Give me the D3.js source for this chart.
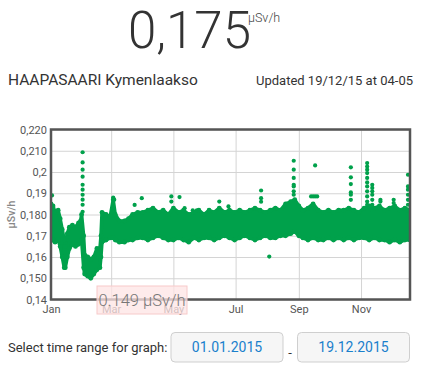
<!DOCTYPE html>
<html>
<head>
<meta charset="utf-8">
<script src="https://cdn.jsdelivr.net/npm/d3@7"></script>
<style>
  body { margin: 0; background: #fff; }
  svg { display: block; font-family: Roboto, "Noto Sans", sans-serif; }
</style>
</head>
<body>
<svg id="chart" width="431" height="384"></svg>
<script>
const width = 431;
const height = 384;

const currentValue = "0,175";
const unit = "µSv/h";
const stationName = "HAAPASAARI Kymenlaakso";
const updatedText = "Updated 19/12/15 at 04-05";
const hoverText = "0.149 µSv/h";
const rangeStart = "01.01.2015";
const rangeEnd = "19.12.2015";

const yTickValues = [0.14, 0.15, 0.16, 0.17, 0.18, 0.19, 0.20, 0.21, 0.22];
const yTickLabels = ["0,14", "0,150", "0,16", "0,17", "0,180", "0,19", "0,2", "0,210", "0,220"];
const xTickDates = ["2015-01-01", "2015-03-01", "2015-05-01", "2015-07-01", "2015-09-01", "2015-11-01"];
const xTickLabels = ["Jan", "Mar", "May", "Jul", "Sep", "Nov"];

// dense band of readings: low / high edge at each date
const bandDates = [
  "2015-01-01", "2015-01-03", "2015-01-05", "2015-01-08", "2015-01-10", "2015-01-12", "2015-01-14", "2015-01-15",
  "2015-01-17", "2015-01-19", "2015-01-22", "2015-01-25", "2015-01-28", "2015-01-30", "2015-01-31", "2015-02-02",
  "2015-02-03", "2015-02-06", "2015-02-09", "2015-02-12", "2015-02-15", "2015-02-18", "2015-02-19", "2015-02-20",
  "2015-02-24", "2015-02-28", "2015-03-03", "2015-03-05", "2015-03-09", "2015-03-14", "2015-03-18", "2015-03-22",
  "2015-03-27", "2015-04-01", "2015-04-06", "2015-04-11", "2015-04-16", "2015-04-21", "2015-04-26", "2015-05-01",
  "2015-05-06", "2015-05-11", "2015-05-16", "2015-05-21", "2015-05-26", "2015-05-31", "2015-06-05", "2015-06-10",
  "2015-06-15", "2015-06-20", "2015-06-25", "2015-06-30", "2015-07-05", "2015-07-10", "2015-07-15", "2015-07-20",
  "2015-07-25", "2015-07-30", "2015-08-04", "2015-08-09", "2015-08-14", "2015-08-19", "2015-08-24", "2015-08-28",
  "2015-09-01", "2015-09-05", "2015-09-10", "2015-09-15", "2015-09-20", "2015-09-25", "2015-09-30", "2015-10-05",
  "2015-10-10", "2015-10-15", "2015-10-20", "2015-10-25", "2015-10-30", "2015-11-04", "2015-11-09", "2015-11-14",
  "2015-11-19", "2015-11-24", "2015-11-29", "2015-12-04", "2015-12-09", "2015-12-14", "2015-12-19"
];
const bandLow = [
  0.168, 0.168, 0.167, 0.168, 0.165, 0.160, 0.155, 0.155,
  0.160, 0.164, 0.166, 0.165, 0.166, 0.167, 0.168, 0.155,
  0.152, 0.151, 0.150, 0.152, 0.154, 0.155, 0.160, 0.167,
  0.168, 0.169, 0.169, 0.168, 0.167, 0.167, 0.168, 0.168,
  0.169, 0.169, 0.168, 0.169, 0.170, 0.169, 0.168, 0.168,
  0.169, 0.168, 0.167, 0.169, 0.168, 0.169, 0.169, 0.168,
  0.169, 0.170, 0.169, 0.168, 0.169, 0.170, 0.169, 0.168,
  0.169, 0.170, 0.169, 0.169, 0.170, 0.170, 0.171, 0.172,
  0.170, 0.169, 0.168, 0.169, 0.168, 0.168, 0.169, 0.168,
  0.169, 0.168, 0.169, 0.168, 0.169, 0.169, 0.168, 0.169,
  0.168, 0.168, 0.167, 0.168, 0.167, 0.168, 0.168
];
const bandHigh = [
  0.185, 0.184, 0.181, 0.182, 0.178, 0.173, 0.168, 0.165,
  0.171, 0.174, 0.175, 0.174, 0.176, 0.177, 0.180, 0.170,
  0.161, 0.160, 0.159, 0.160, 0.164, 0.164, 0.170, 0.181,
  0.180, 0.179, 0.187, 0.180, 0.177, 0.177, 0.178, 0.180,
  0.181, 0.181, 0.182, 0.183, 0.181, 0.182, 0.180, 0.183,
  0.181, 0.182, 0.180, 0.181, 0.182, 0.180, 0.182, 0.181,
  0.183, 0.181, 0.182, 0.181, 0.182, 0.181, 0.182, 0.183,
  0.182, 0.181, 0.182, 0.183, 0.182, 0.185, 0.186, 0.187,
  0.184, 0.182, 0.183, 0.185, 0.182, 0.181, 0.182, 0.181,
  0.182, 0.182, 0.183, 0.182, 0.181, 0.183, 0.184, 0.183,
  0.184, 0.182, 0.183, 0.184, 0.182, 0.183, 0.182
];

// single readings standing out of the band
const spikeDates = [
  "2015-01-02",
  "2015-02-01", "2015-02-01", "2015-02-01", "2015-02-01", "2015-02-01", "2015-02-01", "2015-02-01", "2015-02-01", "2015-02-01", "2015-02-01",
  "2015-03-03", "2015-03-04", "2015-03-24", "2015-03-31",
  "2015-04-29", "2015-04-29", "2015-05-07", "2015-05-12", "2015-05-20", "2015-05-24", "2015-06-15", "2015-06-24",
  "2015-07-26", "2015-07-26", "2015-07-26", "2015-08-03",
  "2015-08-27", "2015-08-27", "2015-08-27", "2015-08-27", "2015-08-27", "2015-08-27", "2015-08-27",
  "2015-09-13", "2015-09-15", "2015-09-17", "2015-09-19", "2015-09-17",
  "2015-10-22", "2015-10-22", "2015-10-22", "2015-10-22", "2015-10-22", "2015-10-22",
  "2015-11-07", "2015-11-07", "2015-11-07", "2015-11-07", "2015-11-07", "2015-11-07", "2015-11-07", "2015-11-07", "2015-11-07", "2015-11-07", "2015-11-07",
  "2015-11-12", "2015-11-12", "2015-11-12", "2015-11-12", "2015-11-12", "2015-11-12", "2015-11-12",
  "2015-11-20", "2015-11-20", "2015-12-03", "2015-12-03",
  "2015-12-17", "2015-12-17", "2015-12-17", "2015-12-17", "2015-12-17", "2015-12-17", "2015-12-17", "2015-12-17"
];
const spikeValues = [
  0.189,
  0.2093, 0.2045, 0.2011, 0.1978, 0.194, 0.1917, 0.1893, 0.187, 0.1846, 0.1813,
  0.188, 0.187, 0.1845, 0.1877,
  0.1885, 0.1861, 0.1882, 0.183, 0.182, 0.182, 0.1861, 0.1838,
  0.1913, 0.1877, 0.186, 0.1602,
  0.2053, 0.2011, 0.1972, 0.194, 0.1932, 0.1909, 0.1893,
  0.1885, 0.1885, 0.1885, 0.1885, 0.2031,
  0.2022, 0.1975, 0.1943, 0.1904, 0.1893, 0.1869,
  0.2042, 0.2026, 0.2011, 0.1995, 0.1972, 0.1951, 0.1932, 0.1909, 0.1885, 0.1861, 0.1846,
  0.194, 0.1925, 0.1909, 0.1893, 0.1869, 0.1846, 0.1822,
  0.1869, 0.1861, 0.1869, 0.1854,
  0.1987, 0.1932, 0.1917, 0.1893, 0.1869, 0.1846, 0.1822, 0.1799
];

const parse = d3.timeParse("%Y-%m-%d");
const green = "#00a14b";

const svg = d3.select("#chart");

const plot = { left: 51, right: 410, top: 129.5, bottom: 299.5 };

const x = d3.scaleTime()
  .domain([parse("2015-01-01"), parse("2015-12-19")])
  .range([plot.left, plot.right]);

const y = d3.scaleLinear()
  .domain([0.14, 0.22])
  .range([plot.bottom, plot.top]);

// header
svg.append("text")
  .attr("x", 128).attr("y", 48)
  .attr("font-size", 51).attr("font-weight", 300)
  .attr("fill", "#333")
  .text(currentValue);

svg.append("text")
  .attr("x", 248).attr("y", 22)
  .attr("font-size", 12.5).attr("font-weight", 300)
  .attr("fill", "#444")
  .text(unit);

svg.append("text")
  .attr("x", 8).attr("y", 85)
  .attr("font-size", 15.5)
  .attr("fill", "#333")
  .text(stationName);

svg.append("text")
  .attr("x", 413).attr("y", 85)
  .attr("text-anchor", "end")
  .attr("font-size", 13)
  .attr("fill", "#333")
  .text(updatedText);

// grid
svg.append("g")
  .attr("transform", `translate(${plot.left},0)`)
  .call(d3.axisLeft(y).tickValues(yTickValues).tickSize(-(plot.right - plot.left)).tickFormat(""))
  .call(g => g.select(".domain").remove())
  .call(g => g.selectAll("line").attr("stroke", "#d4d4d4"));

svg.append("g")
  .attr("transform", `translate(0,${plot.bottom})`)
  .call(d3.axisBottom(x).tickValues(xTickDates.map(parse)).tickSize(-(plot.bottom - plot.top)).tickFormat(""))
  .call(g => g.select(".domain").remove())
  .call(g => g.selectAll("line").attr("stroke", "#d4d4d4"));

// data
svg.append("clipPath").attr("id", "clip")
  .append("rect")
  .attr("x", plot.left).attr("y", plot.top)
  .attr("width", plot.right - plot.left).attr("height", plot.bottom - plot.top);

const band = bandDates.map((d, i) => ({ date: parse(d), low: bandLow[i], high: bandHigh[i] }));

const area = d3.area()
  .x(d => x(d.date))
  .y0(d => y(d.low))
  .y1(d => y(d.high));

const marks = svg.append("g").attr("clip-path", "url(#clip)");

marks.append("path")
  .datum(band)
  .attr("d", area)
  .attr("fill", green)
  .attr("stroke", green)
  .attr("stroke-width", 3.5)
  .attr("stroke-linejoin", "round");

// dots on the band edges
const edgeDots = band.flatMap(d => [{ date: d.date, value: d.low }, { date: d.date, value: d.high }]);
marks.selectAll("circle.edge")
  .data(edgeDots)
  .join("circle")
  .attr("class", "edge")
  .attr("cx", d => x(d.date))
  .attr("cy", d => y(d.value))
  .attr("r", 2.4)
  .attr("fill", green);

marks.selectAll("circle.spike")
  .data(spikeDates.map((d, i) => ({ date: parse(d), value: spikeValues[i] })))
  .join("circle")
  .attr("class", "spike")
  .attr("cx", d => x(d.date))
  .attr("cy", d => y(d.value))
  .attr("r", 2.1)
  .attr("fill", green);

// frame
svg.append("rect")
  .attr("x", plot.left).attr("y", plot.top)
  .attr("width", plot.right - plot.left).attr("height", plot.bottom - plot.top)
  .attr("fill", "none")
  .attr("stroke", "#555")
  .attr("stroke-width", 2.5);

// axis labels
svg.append("g")
  .attr("transform", `translate(${plot.left - 4},0)`)
  .call(d3.axisLeft(y).tickValues(yTickValues).tickSize(0).tickPadding(0)
    .tickFormat((d, i) => yTickLabels[i]))
  .call(g => g.select(".domain").remove())
  .call(g => g.selectAll("text")
    .attr("font-family", "Roboto, sans-serif")
    .attr("font-size", 11).attr("fill", "#555"));

svg.append("g")
  .attr("transform", `translate(0,${plot.bottom + 3})`)
  .call(d3.axisBottom(x).tickValues(xTickDates.map(parse)).tickSize(0).tickPadding(3)
    .tickFormat((d, i) => xTickLabels[i]))
  .call(g => g.select(".domain").remove())
  .call(g => g.selectAll("text")
    .attr("font-family", "Roboto, sans-serif")
    .attr("font-size", 11).attr("fill", "#555"));

svg.append("text")
  .attr("transform", `translate(15,${(plot.top + plot.bottom) / 2}) rotate(-90)`)
  .attr("text-anchor", "middle")
  .attr("font-size", 10.5).attr("font-weight", 500)
  .attr("fill", "#888")
  .text(unit);

// hover label
const tip = svg.append("g");
tip.append("rect")
  .attr("x", 97).attr("y", 286)
  .attr("width", 90).attr("height", 28)
  .attr("fill", "#fde4e4").attr("fill-opacity", 0.75)
  .attr("stroke", "#f7caca").attr("stroke-width", 1);
tip.append("text")
  .attr("x", 142).attr("y", 306)
  .attr("text-anchor", "middle")
  .attr("font-size", 16.5).attr("font-weight", 300)
  .attr("fill", "#777")
  .text(hoverText);

// time range selector
svg.append("text")
  .attr("x", 8).attr("y", 352)
  .attr("font-size", 13)
  .attr("fill", "#333")
  .text("Select time range for graph:");

const boxes = [
  { x: 171, text: rangeStart },
  { x: 297.5, text: rangeEnd }
];
boxes.forEach(b => {
  svg.append("rect")
    .attr("x", b.x).attr("y", 332.5)
    .attr("width", 112).attr("height", 29.5)
    .attr("rx", 4)
    .attr("fill", "#f6f6f6")
    .attr("stroke", "#cfcfcf");
  svg.append("text")
    .attr("x", b.x + 56).attr("y", 352)
    .attr("text-anchor", "middle")
    .attr("font-size", 14)
    .attr("fill", "#1a80cc")
    .text(b.text);
});

svg.append("text")
  .attr("x", 290).attr("y", 357)
  .attr("text-anchor", "middle")
  .attr("font-size", 13)
  .attr("fill", "#333")
  .text("-");
</script>
</body>
</html>
